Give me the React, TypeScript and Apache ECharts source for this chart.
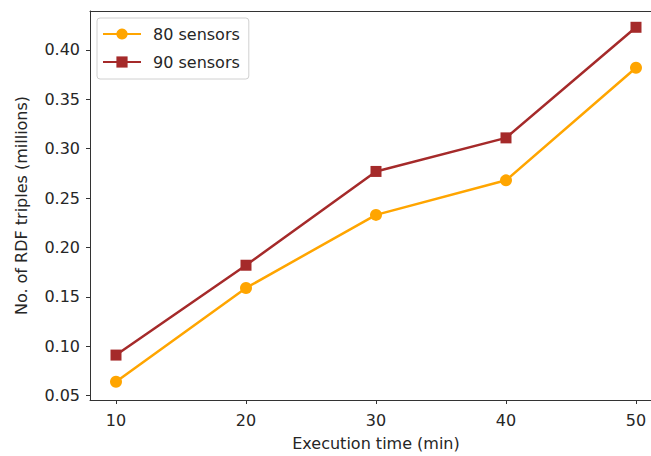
import React, { useEffect, useRef } from "react";
import * as echarts from "echarts";

const xValues = [10, 20, 30, 40, 50];
const sensors80 = [0.064, 0.159, 0.233, 0.268, 0.382];
const sensors90 = [0.091, 0.182, 0.277, 0.311, 0.423];
const xTicks = [10, 20, 30, 40, 50];
const yTicks = [0.05, 0.1, 0.15, 0.2, 0.25, 0.3, 0.35, 0.4];
const seriesNames = ["80 sensors", "90 sensors"];

export default function App() {
  const ref = useRef<HTMLDivElement>(null);
  useEffect(() => {
    const chart = echarts.init(ref.current!, null, { renderer: "svg" });
    const font = "DejaVu Sans";
    const textColor = "#262626";
    const fs = 16;
    chart.setOption({
      animation: false,
      backgroundColor: "#fff",
      textStyle: { fontFamily: font },
      grid: {
        left: 90,
        top: 11,
        right: 0,
        bottom: 53,
        show: false,
      },
      legend: {
        orient: "vertical",
        left: 97,
        top: 18,
        itemWidth: 38,
        itemHeight: 14,
        itemGap: 12,
        padding: [8, 9, 9, 5],
        backgroundColor: "#fff",
        borderColor: "#d0d0d0",
        borderWidth: 1,
        borderRadius: 3,
        textStyle: {
          fontFamily: font,
          fontSize: fs,
          color: textColor,
          padding: [0, 0, 0, 7],
        },
        data: seriesNames,
      },
      xAxis: [
        {
          type: "value",
          min: 8,
          max: 52,
          name: "Execution time (min)",
          nameLocation: "middle",
          nameGap: 35,
          nameTextStyle: { fontFamily: font, fontSize: fs, color: textColor },
          splitLine: { show: false },
          axisLine: { show: true, onZero: false, lineStyle: { color: "#333", width: 1 } },
          axisTick: {
            show: true,
            length: 4,
            customValues: xTicks,
            lineStyle: { color: "#333" },
          },
          axisLabel: {
            customValues: xTicks,
            fontFamily: font,
            fontSize: fs,
            color: textColor,
            margin: 12,
          },
        },
        {
          type: "value",
          position: "top",
          min: 8,
          max: 52,
          splitLine: { show: false },
          axisLine: { show: true, onZero: false, lineStyle: { color: "#333", width: 1 } },
          axisTick: { show: false },
          axisLabel: { show: false },
        },
      ],
      yAxis: {
        type: "value",
        min: 0.0455,
        max: 0.4395,
        name: "No. of RDF triples (millions)",
        nameLocation: "middle",
        nameGap: 61,
        nameTextStyle: { fontFamily: font, fontSize: fs, color: textColor },
        splitLine: { show: false },
        axisLine: { show: true, onZero: false, lineStyle: { color: "#333", width: 1 } },
        axisTick: {
          show: true,
          length: 4,
          customValues: yTicks,
          lineStyle: { color: "#333" },
        },
        axisLabel: {
          customValues: yTicks,
          fontFamily: font,
          fontSize: fs,
          color: textColor,
          margin: 10,
          formatter: (v: number) => v.toFixed(2),
        },
      },
      series: [
        {
          name: seriesNames[0],
          type: "line",
          data: xValues.map((x, i) => [x, sensors80[i]]),
          symbol: "circle",
          symbolSize: 12,
          lineStyle: { color: "#FFA500", width: 2.5 },
          itemStyle: { color: "#FFA500" },
        },
        {
          name: seriesNames[1],
          type: "line",
          data: xValues.map((x, i) => [x, sensors90[i]]),
          symbol: "rect",
          symbolSize: 11,
          lineStyle: { color: "#A52A2A", width: 2.5 },
          itemStyle: { color: "#A52A2A" },
        },
      ],
    });
    return () => chart.dispose();
  }, []);
  return (
    <div
      style={{
        width: 651,
        height: 456,
        position: "absolute",
        left: 0,
        top: 0,
        overflow: "hidden",
        background: "#fff",
      }}
    >
      <div ref={ref} style={{ width: 662, height: 456 }} />
    </div>
  );
}
